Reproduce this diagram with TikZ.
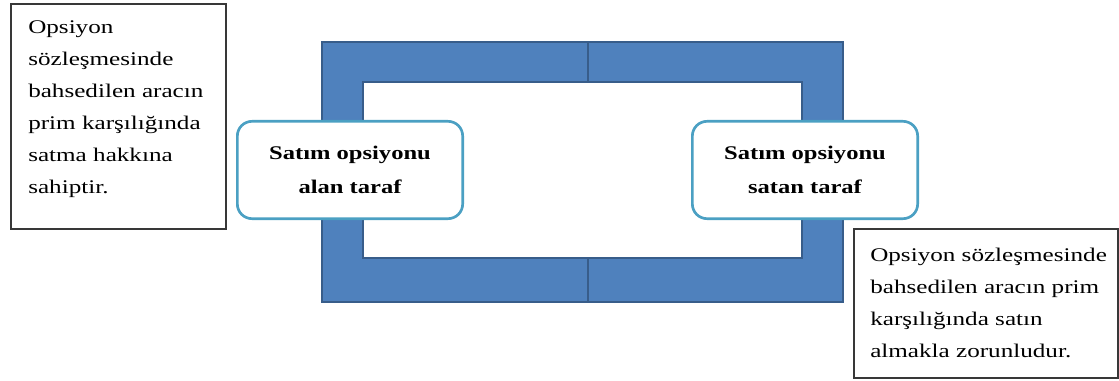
\documentclass[tikz,border=0pt]{standalone}
\usepackage{fontspec}
\IfFontExistsTF{LiberationSerif-Regular.ttf}
  {\setmainfont{LiberationSerif-Regular.ttf}[BoldFont=LiberationSerif-Bold.ttf]}
  {\setmainfont{Liberation Serif}}
\definecolor{framefill}{RGB}{79,129,189}
\definecolor{frameline}{RGB}{56,93,138}
\definecolor{roleline}{RGB}{75,160,195}
\definecolor{noteline}{RGB}{56,56,56}
% wide-set lines of text
\newcommand{\widetext}[3][1.3]{\scalebox{#1}[1]{\begin{tabular}{@{}#2@{}}#3\end{tabular}}}
\begin{document}
\begin{tikzpicture}[x=0.75pt,y=-0.75pt,
  rolebox/.style={draw=roleline,line width=2pt,fill=white,rounded corners=11pt,
    minimum width=169pt,minimum height=73pt,align=center,
    font=\fontsize{14.5}{25.5}\selectfont\bfseries},
  notebox/.style={draw=noteline,line width=1.4pt,fill=white,anchor=north west},
  notetext/.style={anchor=north west,inner sep=0pt,
    font=\fontsize{14.5}{24}\selectfont}]
  \useasboundingbox (0,0) rectangle (1119,381);
  % frame: two halves
  \draw[fill=framefill,draw=frameline,line width=1.1pt]
    (322,42) -- (588,42) -- (588,82) -- (363,82) -- (363,258)
    -- (588,258) -- (588,302) -- (322,302) -- cycle;
  \draw[fill=framefill,draw=frameline,line width=1.1pt]
    (588,42) -- (843,42) -- (843,302) -- (588,302) -- (588,258)
    -- (802,258) -- (802,82) -- (588,82) -- cycle;
  % the two sides
  \node[rolebox] (buyer) at (350,170) {\widetext[1.27]{c}{Satım opsiyonu\\alan taraf}};
  \node[rolebox] (seller) at (805,170) {\widetext[1.27]{c}{Satım opsiyonu\\satan taraf}};
  % notes
  \node[notebox,minimum width=161pt,minimum height=169pt] (buyernote) at (10,3) {};
  \node[notetext] (buyertext) at ([shift={(18,8)}]buyernote.north west)
    {\widetext{l}{Opsiyon\\sözleşmesinde\\bahsedilen aracın\\prim karşılığında\\satma hakkına\\sahiptir.}};
  \node[notebox,minimum width=198pt,minimum height=112pt] (sellernote) at (853,228) {};
  \node[notetext] (sellertext) at ([shift={(17,10.5)}]sellernote.north west)
    {\widetext{l}{Opsiyon sözleşmesinde\\bahsedilen aracın prim\\karşılığında satın\\almakla zorunludur.}};
\end{tikzpicture}
\end{document}
